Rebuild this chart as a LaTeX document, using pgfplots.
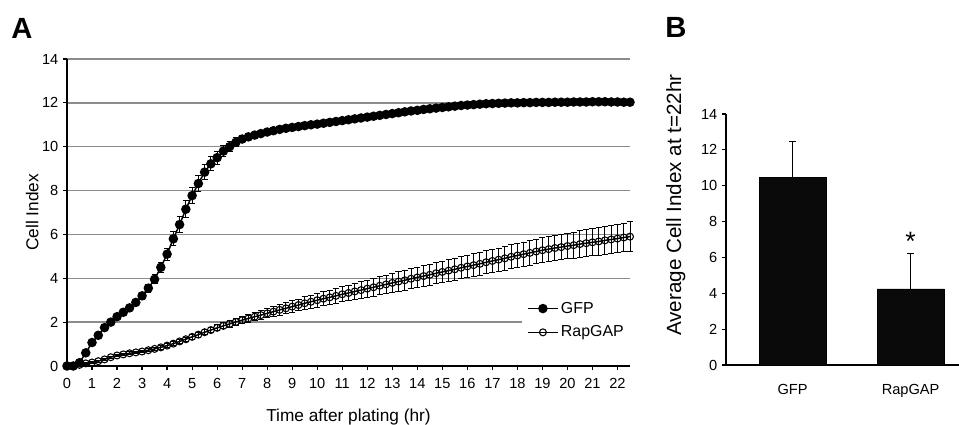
\documentclass[border=0pt]{standalone}
\usepackage{fontspec}
\setmainfont{Liberation Sans}
\usepackage{pgfplots}
\usepackage{pgfplotstable}
\pgfplotsset{compat=1.18}

\definecolor{gridgray}{RGB}{140,140,140}
\definecolor{barblack}{RGB}{10,10,10}

% time course, mean and error
\pgfplotstableread{
t m e
0 0.00 0.02
0.25 0.00 0.02
0.5 0.15 0.05
0.75 0.60 0.08
1 1.07 0.10
1.25 1.40 0.10
1.5 1.75 0.10
1.75 2.00 0.10
2 2.25 0.12
2.25 2.45 0.12
2.5 2.65 0.12
2.75 2.90 0.14
3 3.20 0.16
3.25 3.55 0.18
3.5 3.95 0.20
3.75 4.50 0.24
4 5.10 0.28
4.25 5.80 0.32
4.5 6.45 0.36
4.75 7.15 0.38
5 7.77 0.38
5.25 8.32 0.38
5.5 8.84 0.35
5.75 9.22 0.32
6 9.50 0.30
6.25 9.80 0.26
6.5 10.00 0.22
6.75 10.20 0.20
7 10.35 0.18
7.25 10.45 0.16
7.5 10.53 0.15
7.75 10.60 0.14
8 10.67 0.13
8.25 10.73 0.12
8.5 10.79 0.12
8.75 10.84 0.12
9 10.88 0.12
9.25 10.92 0.12
9.5 10.96 0.12
9.75 11.00 0.12
10 11.03 0.11
10.25 11.07 0.11
10.5 11.11 0.11
10.75 11.15 0.11
11 11.19 0.11
11.25 11.23 0.11
11.5 11.27 0.11
11.75 11.31 0.11
12 11.35 0.10
12.25 11.39 0.10
12.5 11.43 0.10
12.75 11.47 0.10
13 11.51 0.10
13.25 11.55 0.10
13.5 11.59 0.10
13.75 11.63 0.10
14 11.66 0.10
14.25 11.70 0.10
14.5 11.73 0.10
14.75 11.76 0.10
15 11.79 0.10
15.25 11.82 0.10
15.5 11.85 0.10
15.75 11.88 0.10
16 11.90 0.10
16.25 11.92 0.10
16.5 11.94 0.10
16.75 11.96 0.10
17 11.97 0.10
17.25 11.98 0.10
17.5 11.99 0.10
17.75 12.00 0.10
18 12.00 0.10
18.25 12.01 0.10
18.5 12.01 0.10
18.75 12.02 0.10
19 12.02 0.10
19.25 12.02 0.10
19.5 12.03 0.10
19.75 12.03 0.10
20 12.03 0.10
20.25 12.04 0.10
20.5 12.04 0.10
20.75 12.04 0.10
21 12.05 0.10
21.25 12.05 0.10
21.5 12.05 0.10
21.75 12.04 0.10
22 12.04 0.10
22.25 12.03 0.10
22.5 12.03 0.10
}\gfp

\pgfplotstableread{
t m e
0 0.00 0.02
0.25 0.00 0.02
0.5 0.05 0.03
0.75 0.12 0.04
1 0.16 0.04
1.25 0.22 0.05
1.5 0.30 0.05
1.75 0.40 0.05
2 0.48 0.05
2.25 0.53 0.05
2.5 0.58 0.06
2.75 0.62 0.06
3 0.66 0.06
3.25 0.72 0.07
3.5 0.78 0.07
3.75 0.85 0.08
4 0.93 0.08
4.25 1.02 0.09
4.5 1.12 0.09
4.75 1.22 0.10
5 1.33 0.10
5.25 1.43 0.11
5.5 1.54 0.12
5.75 1.64 0.12
6 1.74 0.13
6.25 1.83 0.14
6.5 1.92 0.15
6.75 2.01 0.16
7 2.09 0.17
7.25 2.17 0.18
7.5 2.25 0.19
7.75 2.32 0.20
8 2.40 0.21
8.25 2.48 0.22
8.5 2.56 0.24
8.75 2.63 0.25
9 2.71 0.26
9.25 2.78 0.27
9.5 2.86 0.29
9.75 2.93 0.30
10 3.00 0.31
10.25 3.07 0.32
10.5 3.13 0.33
10.75 3.20 0.34
11 3.27 0.35
11.25 3.33 0.36
11.5 3.40 0.37
11.75 3.46 0.38
12 3.53 0.39
12.25 3.59 0.40
12.5 3.66 0.41
12.75 3.72 0.42
13 3.79 0.43
13.25 3.85 0.44
13.5 3.91 0.45
13.75 3.98 0.46
14 4.04 0.47
14.25 4.10 0.47
14.5 4.16 0.48
14.75 4.23 0.48
15 4.29 0.49
15.25 4.35 0.49
15.5 4.41 0.50
15.75 4.48 0.50
16 4.54 0.51
16.25 4.60 0.51
16.5 4.66 0.52
16.75 4.73 0.52
17 4.79 0.53
17.25 4.85 0.53
17.5 4.91 0.54
17.75 4.98 0.54
18 5.04 0.55
18.25 5.10 0.55
18.5 5.16 0.56
18.75 5.22 0.56
19 5.28 0.57
19.25 5.33 0.57
19.5 5.38 0.58
19.75 5.42 0.58
20 5.47 0.59
20.25 5.51 0.60
20.5 5.56 0.61
20.75 5.60 0.61
21 5.64 0.62
21.25 5.68 0.63
21.5 5.73 0.64
21.75 5.77 0.65
22 5.81 0.65
22.25 5.86 0.66
22.5 5.90 0.67
}\rapgap

% panel B: value at t = 22 hr
\pgfplotstableread{
x m e
0 10.45 2.00
1 4.25 1.95
}\endpoint

\pgfplotsset{
  panel/.style={
    scale only axis,
    axis lines*=left,
    axis line style={-, black, line width=1.1bp},
    tick align=outside,
    major tick length=3bp,
    tick style={black, line width=0.9bp},
    ymin=0, ymax=14, ytick={0,2,...,14},
    tick label style={font=\fontsize{11}{13}\selectfont},
    label style={font=\fontsize{13}{15}\selectfont},
    /pgf/number format/assume math mode=true,
  },
}

\begin{document}
\begin{tikzpicture}
\path[use as bounding box] (0,0) rectangle (719.25bp,318.75bp);

% ---- panel A
\begin{axis}[panel,
  at={(50.25bp,44.25bp)}, anchor=south west,
  width=422.25bp, height=230.25bp,
  xmin=0, xmax=22.5, xtick={0,1,...,22},
  xticklabel style={yshift=-2.5bp},
  ymajorgrids, grid style={gridgray, line width=1bp},
  clip=false,
  xlabel={Time after plating (hr)},
  ylabel={Cell Index},
  xlabel style={at={(axis description cs:0.5,-0.165)}, anchor=center},
  ylabel style={at={(axis description cs:-0.062,0.5)}, anchor=center},
  legend style={at={(axis description cs:0.808,0.231)}, anchor=north west,
    draw=none, fill=white, font=\fontsize{12}{14}\selectfont,
    inner xsep=4bp, inner ysep=3bp, row sep=4bp,
    cells={anchor=west}},
  legend image code/.code={%
    \draw[mark repeat=2, mark phase=2, #1]
      plot coordinates {(0bp,0bp) (11bp,0bp) (22bp,0bp)};},
]
\addplot[black, line width=1.1bp, mark=*, mark size=3bp,
  mark options={fill=black},
  error bars/.cd, y dir=both, y explicit,
  error bar style={black, line width=0.75bp},
  error mark options={rotate=90, black, mark size=2.3bp, line width=0.75bp}]
  table[x=t, y=m, y error=e] {\gfp};
\addlegendentry{GFP}
\addplot[black, line width=1.1bp, mark=o, mark size=2.6bp,
  mark options={fill=white, line width=0.8bp},
  error bars/.cd, y dir=both, y explicit,
  error bar style={black, line width=0.75bp},
  error mark options={rotate=90, black, mark size=2.3bp, line width=0.75bp}]
  table[x=t, y=m, y error=e] {\rapgap};
\addlegendentry{RapGAP}
\end{axis}

% ---- panel B
\begin{axis}[panel,
  at={(544.5bp,45bp)}, anchor=south west,
  width=174.75bp, height=188.25bp,
  xmin=-0.564, xmax=1.41,
  xtick={0,1}, xticklabels={GFP,RapGAP},
  x tick style={draw=none},
  xticklabel style={yshift=-8bp},
  ylabel={Average Cell Index at t=22hr},
  ylabel style={at={(axis description cs:-0.215,0.637)}, anchor=center,
    font=\fontsize{15.5}{17}\selectfont},
  clip=false,
]
\addplot[ybar, bar width=50.25bp, draw=black, fill=barblack,
  error bars/.cd, y dir=plus, y explicit,
  error bar style={black, line width=0.8bp},
  error mark options={rotate=90, black, mark size=2.6bp, line width=0.8bp}]
  table[x=x, y=m, y error=e] {\endpoint};
\node[font=\fontsize{20}{22}\selectfont] at (axis cs:1,6.9) {*};
\end{axis}

\node[font=\fontsize{22}{24}\selectfont\bfseries] at (16.5bp,297.75bp) {A};
\node[font=\fontsize{22}{24}\selectfont\bfseries] at (507bp,298.5bp) {B};
\end{tikzpicture}
\end{document}
